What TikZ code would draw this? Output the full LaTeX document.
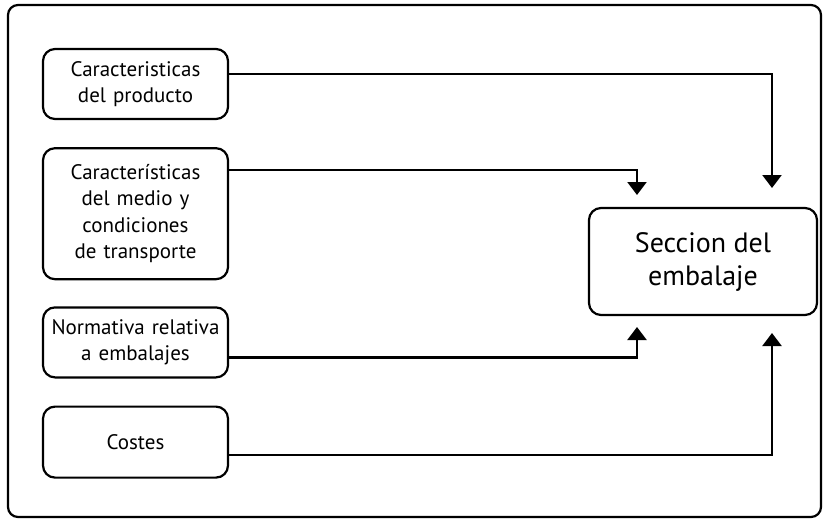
\documentclass[tikz,border=0pt]{standalone}
\usepackage{fontspec}
\setmainfont{PT Sans}
\usetikzlibrary{positioning,arrows.meta}

\tikzset{
  factor/.style={draw, line width=2.2pt, rounded corners=12pt, align=center,
    text width=180pt, minimum width=185pt, minimum height=70pt,
    inner sep=0pt, font=\fontsize{21}{26.5}\selectfont},
  result/.style={draw, line width=2.2pt, rounded corners=12pt, align=center,
    minimum width=228pt, minimum height=107pt, inner sep=0pt,
    font=\fontsize{28}{33}\selectfont},
  link/.style={line width=2.2pt, -{Triangle[width=19pt,length=13pt]}},
}

\begin{document}
\begin{tikzpicture}[x=1pt, y=-1pt]
  \useasboundingbox (0,0) rectangle (823,520);
  \draw[line width=2.2pt, rounded corners=10pt] (8,5) rectangle (821,517);

  \node[factor] (prod) at (135.5,84) {Caracteristicas\\del producto};
  \node[factor, minimum height=131pt, below=27pt of prod] (medio)
    {Características\\del medio y\\condiciones\\de transporte};
  \node[factor, below=26pt of medio] (norma) {Normativa relativa\\a embalajes};
  \node[factor, minimum height=71pt, below=27pt of norma] (costes) {Costes};

  \node[result] (sel) at (703,261.5) {Seccion del\\embalaje};

  % arrow tips round the result box
  \coordinate (tip1) at (772,188);
  \coordinate (tip2) at (637,195);
  \coordinate (tip3) at (637,327);
  \coordinate (tip4) at (772,333);

  \draw[link] ([yshift=10pt]prod.east) -| (tip1);
  \draw[link] ([yshift=43.5pt]medio.east) -| (tip2);
  \draw[link] ([yshift=-15pt]norma.east) -| (tip3);
  \draw[link] ([yshift=-12.5pt]costes.east) -| (tip4);
\end{tikzpicture}
\end{document}
